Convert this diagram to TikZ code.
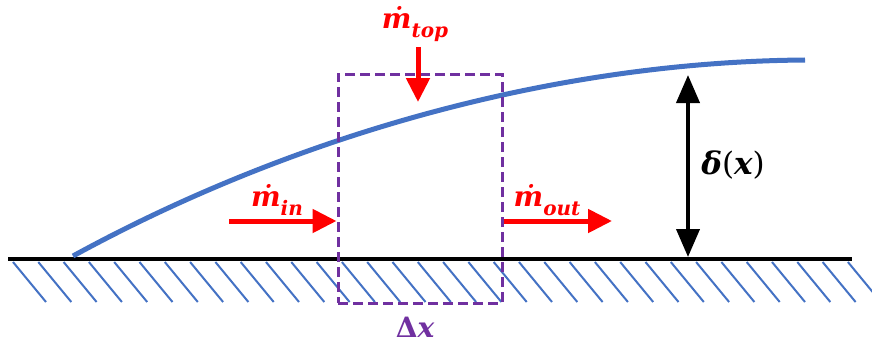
\documentclass[tikz,border=0pt]{standalone}
\usepackage{fontspec}
\newfontfamily\lblfont{DejaVu Serif}
\newcommand\lowsub[1]{\raisebox{-0.3em}{\fontsize{20}{20}\selectfont #1}}
\usetikzlibrary{arrows.meta}
\definecolor{flowred}{RGB}{255,0,0}
\definecolor{cvpurple}{RGB}{112,48,160}
\definecolor{layerblue}{RGB}{68,114,196}
\begin{document}
\begin{tikzpicture}[x=1pt,y=-1pt]
  \tikzset{lbl/.style={inner sep=0pt,font=\lblfont\fontsize{28}{32}\selectfont\bfseries\itshape},
    flow/.style={draw=flowred,line width=5pt,-{Triangle[length=24pt,width=23pt]}}}
  \useasboundingbox (0,0) rectangle (872,345);
  % wall with hatching
  \foreach \i in {0,...,33} \draw[layerblue,line width=2pt] (13+25.3*\i,262) -- ++(33,40);
  \coordinate (w0) at (8,259); \coordinate (w1) at (852,259);
  \draw[line width=4pt] (w0) -- (w1);
  % boundary layer edge
  \draw[layerblue,line width=5pt] (73,256) .. controls (285,140) and (545,62) .. (805,60);
  % control volume
  \node[draw=cvpurple,line width=3pt,dash pattern=on 10pt off 5pt,minimum width=164pt,minimum height=229pt,inner sep=0pt] (cv) at (420,188.5) {};
  \node[lbl,text=cvpurple] (dx) at (415,327) {{\upshape Δ}x};
  % mass flows
  \coordinate (inS) at (229,221);
  \coordinate (outE) at (612,221);
  \coordinate (topS) at (418,47);
  \coordinate (topE) at (418,102);
  \draw[flow] (inS) -- (inS -| cv.west);
  \draw[flow] (inS -| cv.east) -- (outE);
  \draw[flow] (topS) -- (topE);
  \node[lbl,text=flowred] (min) at (277,200) {ṁ\lowsub{in}};
  \node[lbl,text=flowred] (mout) at (547,200) {ṁ\lowsub{out}};
  \node[lbl,text=flowred] (mtop) at (415,24) {ṁ\lowsub{top}};
  % thickness
  \coordinate (dT) at (688,75); \coordinate (dB) at (688,257);
  \draw[line width=4pt,{Triangle[length=28pt,width=23pt]}-{Triangle[length=28pt,width=23pt]}] (dT) -- (dB);
  \node[lbl,font=\lblfont\fontsize{31}{35}\selectfont\bfseries\itshape] (delta) at (733,165) {δ{\upshape\mdseries(}x{\upshape\mdseries)}};
\end{tikzpicture}
\end{document}
